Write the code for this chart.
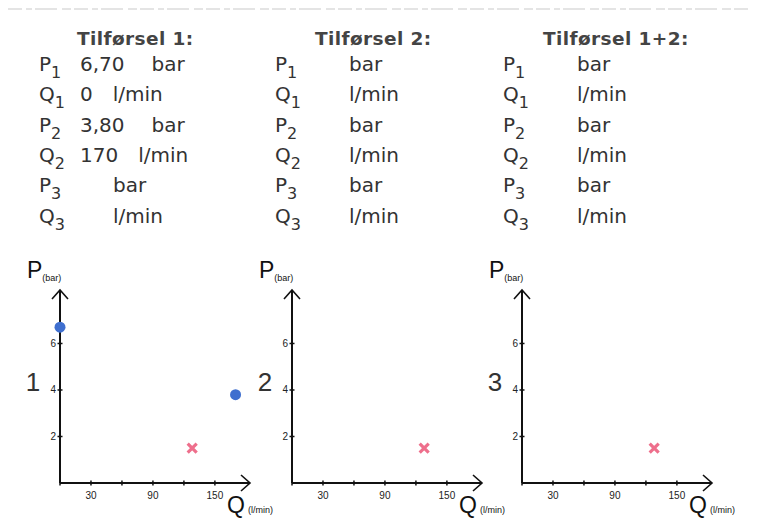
<!DOCTYPE html>
<html>
<head>
<meta charset="utf-8">
<script src="https://cdn.jsdelivr.net/npm/d3@7"></script>
<style>
  body { margin: 0; background: #fff; }
  svg { display: block; }
</style>
</head>
<body>
<div id="root"></div>
<script>
const width = 757;
const height = 530;

// Data

const headers = ['Tilførsel 1:', 'Tilførsel 2:', 'Tilførsel 1+2:'];
const rowNames = ['P', 'Q', 'P', 'Q', 'P', 'Q'];
const rowIndex = ['1', '1', '2', '2', '3', '3'];
const units = ['bar', 'l/min', 'bar', 'l/min', 'bar', 'l/min'];
const values1 = ['6,70', '0', '3,80', '170', '', ''];
const values2 = ['', '', '', '', '', ''];
const values3 = ['', '', '', '', '', ''];
const tableValues = [values1, values2, values3];

const chartNumbers = ['1', '2', '3'];
const pointsQ = [[0, 170], [], []];
const pointsP = [[6.7, 3.8], [], []];
const crossQ = [128, 128, 128];
const crossP = [1.5, 1.5, 1.5];

const qTicks = [0, 30, 60, 90, 120, 150];
const qLabels = [30, 90, 150];
const pTicks = [2, 4, 6];

const textColor = '#333';
const font = 'DejaVu Sans, Verdana, sans-serif';
const chartFont = 'Liberation Sans, Arial, sans-serif';

const svg = d3
  .select('#root')
  .append('svg')
  .attr('width', width)
  .attr('height', height);

// faint scan line at the top

svg
  .append('line')
  .attr('x1', 8)
  .attr('x2', 750)
  .attr('y1', 9)
  .attr('y2', 9)
  .attr('stroke', '#dcdcdc')
  .attr('stroke-width', 1.5)
  .attr('stroke-dasharray', '14 4 6 3 22 5 9 3');

// Table

const colX = [39, 275, 503];
const headerX = [77, 315, 543];
const rowY = (i) => 71 + i * 30.3;

headers.forEach((h, c) => {
  const g = svg.append('g').attr('class', 'column');

  g.append('text')
    .attr('x', headerX[c])
    .attr('y', 45)
    .attr('font-family', font)
    .attr('font-size', 18.5)
    .attr('font-weight', 'bold')
    .attr('letter-spacing', 0.4)
    .attr('fill', '#444')
    .text(h);

  rowNames.forEach((name, i) => {
    const t = g
      .append('text')
      .attr('x', colX[c])
      .attr('y', rowY(i))
      .attr('font-family', font)
      .attr('font-size', 20)
      .attr('fill', textColor);
    t.append('tspan').text(name);
    t.append('tspan')
      .attr('dy', 7)
      .attr('font-size', 16)
      .text(rowIndex[i]);

    const v = tableValues[c][i];
    const vt = g
      .append('text')
      .attr('x', v ? colX[c] + 41 : colX[c] + 74)
      .attr('y', rowY(i))
      .attr('font-family', font)
      .attr('font-size', 20)
      .attr('fill', textColor);
    if (v) {
      vt.append('tspan').text(v);
      vt.append('tspan')
        .attr('dx', units[i] === 'bar' ? 27 : 20)
        .text(units[i]);
    } else {
      vt.text(units[i]);
    }
  });
});

// Charts

const originX = [60, 292, 522];
const originY = 483;

chartNumbers.forEach((num, c) => {
  const x = d3
    .scaleLinear()
    .domain([0, 184])
    .range([originX[c], originX[c] + 190]);
  const y = d3
    .scaleLinear()
    .domain([0, 8.3])
    .range([originY, 290]);

  const g = svg.append('g').attr('class', 'chart');

  // axes lines
  g.append('line')
    .attr('x1', x(0))
    .attr('x2', x(184))
    .attr('y1', y(0))
    .attr('y2', y(0))
    .attr('stroke', '#111')
    .attr('stroke-width', 2);
  g.append('line')
    .attr('x1', x(0))
    .attr('x2', x(0))
    .attr('y1', y(0))
    .attr('y2', y(8.3))
    .attr('stroke', '#111')
    .attr('stroke-width', 2);

  // arrow heads
  g.append('path')
    .attr(
      'd',
      `M${x(184) - 9},${y(0) - 8}L${x(184)},${y(0)}L${x(184) - 9},${y(0) + 8}`
    )
    .attr('fill', 'none')
    .attr('stroke', '#111')
    .attr('stroke-width', 1.6);
  g.append('path')
    .attr(
      'd',
      `M${x(0) - 8},${y(8.3) + 9}L${x(0)},${y(8.3)}L${x(0) + 8},${y(8.3) + 9}`
    )
    .attr('fill', 'none')
    .attr('stroke', '#111')
    .attr('stroke-width', 1.6);

  // ticks
  g.selectAll('.qtick')
    .data(qTicks)
    .enter()
    .append('line')
    .attr('x1', (d) => x(d))
    .attr('x2', (d) => x(d))
    .attr('y1', y(0) - 2.5)
    .attr('y2', y(0) + 2.5)
    .attr('stroke', '#111')
    .attr('stroke-width', 1.5);
  g.selectAll('.ptick')
    .data(pTicks)
    .enter()
    .append('line')
    .attr('x1', x(0) - 2.5)
    .attr('x2', x(0) + 2.5)
    .attr('y1', (d) => y(d))
    .attr('y2', (d) => y(d))
    .attr('stroke', '#111')
    .attr('stroke-width', 1.5);

  g.selectAll('.qlabel')
    .data(qLabels)
    .enter()
    .append('text')
    .attr('x', (d) => x(d))
    .attr('y', y(0) + 16)
    .attr('text-anchor', 'middle')
    .attr('font-family', chartFont)
    .attr('font-size', 10)
    .attr('fill', '#222')
    .text((d) => d);
  g.selectAll('.plabel')
    .data(pTicks)
    .enter()
    .append('text')
    .attr('x', x(0) - 4)
    .attr('y', (d) => y(d) + 3.5)
    .attr('text-anchor', 'end')
    .attr('font-family', chartFont)
    .attr('font-size', 10)
    .attr('fill', '#222')
    .text((d) => d);

  // axis titles
  const pt = g
    .append('text')
    .attr('x', originX[c] - 33)
    .attr('y', 278)
    .attr('font-family', chartFont)
    .attr('font-size', 23)
    .attr('fill', '#111');
  pt.append('tspan').text('P');
  pt.append('tspan').attr('dy', 3).attr('font-size', 9).text('(bar)');

  const qt = g
    .append('text')
    .attr('x', originX[c] + 167)
    .attr('y', 513)
    .attr('font-family', chartFont)
    .attr('font-size', 23)
    .attr('fill', '#111');
  qt.append('tspan').text('Q');
  qt.append('tspan').attr('dx', 3).attr('font-size', 9).text('(l/min)');

  g.append('text')
    .attr('x', originX[c] - 27)
    .attr('y', 391)
    .attr('text-anchor', 'middle')
    .attr('font-family', chartFont)
    .attr('font-size', 26)
    .attr('fill', '#333')
    .text(num);

  // measured points
  g.selectAll('circle')
    .data(d3.zip(pointsQ[c], pointsP[c]))
    .enter()
    .append('circle')
    .attr('cx', (d) => x(d[0]))
    .attr('cy', (d) => y(d[1]))
    .attr('r', 5.5)
    .attr('fill', '#3f6fcf');

  // cross marker
  const cx = x(crossQ[c]);
  const cy = y(crossP[c]);
  g.append('path')
    .attr('d', `M${cx - 4.5},${cy - 4.5}L${cx + 4.5},${cy + 4.5}M${cx - 4.5},${cy + 4.5}L${cx + 4.5},${cy - 4.5}`)
    .attr('stroke', '#ee6f8c')
    .attr('stroke-width', 3.2);
});
</script>
</body>
</html>
